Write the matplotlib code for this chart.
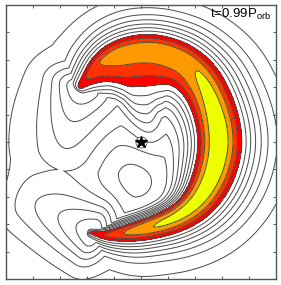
import numpy as np
import matplotlib
matplotlib.use("Agg")
import matplotlib.pyplot as plt

# ---------------- data ----------------
# spiral-arm ridge (image pixel coords), peak level, inner / outer half-widths (px), inner steepness
ridge_x = [80, 88, 98, 112, 130, 150, 170, 190, 206, 216, 221, 221, 214, 200, 180, 155, 130, 110, 98, 90]
ridge_y = [86, 75, 63, 53, 47, 45, 49, 60, 80, 105, 130, 152, 178, 201, 217, 227, 233, 236, 235, 233]
ridge_peak = [10.4, 11.2, 12.0, 12.35, 12.4, 12.45, 12.5, 12.75, 13.2, 13.55, 13.85, 13.85, 13.75, 13.6, 13.4, 13.1, 12.3, 11.3, 10.6, 10.1]
ridge_w_in = [12, 26, 44, 58, 62, 62, 56, 44, 36, 32, 31, 31, 30, 24, 18, 16, 14, 10, 7, 5]
ridge_w_out = [13, 16, 19, 22, 24, 24, 25, 28, 32, 34, 36, 36, 34, 30, 25, 21, 19, 14, 10, 7]
ridge_p_in = [2, 1.9, 1.8, 1.8, 1.8, 1.8, 1.9, 2.0, 2.2, 2.3, 2.3, 2.3, 2.3, 2.5, 2.8, 3, 3, 3, 3, 3]
# faint tails continuing beyond the two tips (px), with their peak levels
tail_up_x = [80, 74, 68, 64]
tail_up_y = [88, 105, 128, 150]
tail_up_peak = [8.0, 6.6, 5.6, 4.9]
tail_lo_x = [92, 72, 48, 26]
tail_lo_y = [233, 224, 212, 202]
tail_lo_peak = [8.0, 6.6, 5.5, 4.6]
# background hump and central minimum
bg_floor = 2.0
bg_amp = 3.2
bg_px = (134, 142)
dip_depth = 3.4
dip_px = (136, 172)
# contour levels and fill colours
line_levels = list(range(1, 14))
fill_levels = [10, 11, 12, 13, 100]
fill_colors = ["#ff0000", "#ff3300", "#ff9900", "#eeff00"]
label = r"t=0.99P$_{\rm orb}$"

# ---------------- build field ----------------
def px2d(px, py):
    return (np.asarray(px, float) - 141) / 135.0, (142 - np.asarray(py, float)) / 137.0

def chaikin(arr, n):
    for _ in range(n):
        q = 0.75 * arr[:-1] + 0.25 * arr[1:]
        r = 0.25 * arr[:-1] + 0.75 * arr[1:]
        mid = np.empty((2 * len(q), arr.shape[1]))
        mid[0::2] = q
        mid[1::2] = r
        arr = np.vstack([arr[:1], mid, arr[-1:]])
    return arr

bx0, by0 = px2d(*bg_px)
dx0, dy0 = px2d(*dip_px)

def background(x, y):
    b = bg_floor + bg_amp * np.exp(-((x - bx0) ** 2 + (y - by0) ** 2) / (2 * 0.6 ** 2))
    return b - dip_depth * np.exp(-((x - dx0) ** 2 + (y - dy0) ** 2) / (2 * 0.25 ** 2))

n = 401
xs = np.linspace(-1, 1, n)
X, Y = np.meshgrid(xs, xs)
bg = background(X, Y)

def tube(cx, cy, peak, w_in, w_out, p_in, p_out, iters=5):
    rx, ry = px2d(cx, cy)
    ctrl = np.column_stack([rx, ry, peak, np.array(w_in) / 135.0,
                            np.array(w_out) / 135.0, p_in])
    S = chaikin(ctrl, iters)
    tx = np.gradient(S[:, 0]); ty = np.gradient(S[:, 1])
    tl = np.hypot(tx, ty); tx = tx / tl; ty = ty / tl
    nx = ty.copy(); ny = -tx.copy()
    flip = (nx * S[:, 0] + ny * S[:, 1]) < 0
    nx[flip] *= -1; ny[flip] *= -1
    amp = S[:, 2] - background(S[:, 0], S[:, 1])
    out = np.zeros_like(X)
    for i in range(len(S)):
        vx = X - S[i, 0]; vy = Y - S[i, 1]
        al = vx * tx[i] + vy * ty[i]
        pp = vx * nx[i] + vy * ny[i]
        wa = 0.6 * S[i, 4]
        g = np.where(pp > 0, np.exp(-(np.abs(pp) / S[i, 4]) ** p_out),
                     np.exp(-(np.abs(pp) / S[i, 3]) ** S[i, 5]))
        P = amp[i] * np.exp(-(al / wa) ** 2) * g
        out = np.maximum(out, P)
    return out

arm = tube(ridge_x, ridge_y, ridge_peak, ridge_w_in, ridge_w_out, ridge_p_in, 1.6)
tw = [30] * 4
t1 = tube(tail_up_x, tail_up_y, tail_up_peak, tw, tw, [2] * 4, 2, 4)
t2 = tube(tail_lo_x, tail_lo_y, tail_lo_peak, tw, tw, [2] * 4, 2, 4)
F = bg + np.maximum(arm, np.maximum(t1, t2))

# ---------------- plot ----------------
fig = plt.figure(figsize=(2.81, 2.85), dpi=100)
ax = fig.add_axes([6 / 281, 1 - 279 / 285, 270 / 281, 274 / 285])
ax.contourf(X, Y, F, levels=fill_levels, colors=fill_colors)
ax.contour(X, Y, F, levels=line_levels, colors="#4a4a4a", linewidths=0.7)
ax.plot([0], [0], "o", ms=8, mfc="white", mec="#555555", mew=0.6)
ax.plot([0], [0], "*", ms=9, color="black")
ax.set_xlim(-1, 1); ax.set_ylim(-1, 1)
ticks = np.arange(-0.8, 0.81, 0.2)
ax.set_xticks(ticks); ax.set_yticks(ticks)
ax.tick_params(direction="in", length=2.5, width=0.6, color="#444444",
               top=True, right=True, labelbottom=False, labelleft=False)
for sp in ax.spines.values():
    sp.set_color("#555555"); sp.set_linewidth(1.0)
plt.rcParams["mathtext.fontset"] = "custom"
plt.rcParams["mathtext.rm"] = "Liberation Sans"
ax.text(0.757, 0.953, label, transform=ax.transAxes, fontsize=9.5,
        family="Liberation Sans", va="baseline", ha="left")
fig.savefig("out.png", dpi=100)
